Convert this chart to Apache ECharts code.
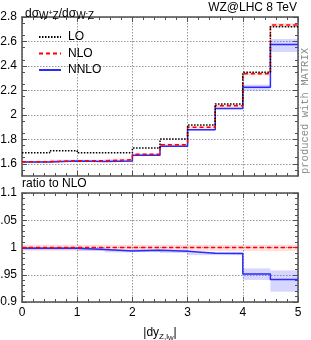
<!DOCTYPE html>
<html><head><meta charset="utf-8">
<script src="https://cdn.jsdelivr.net/npm/echarts@6/dist/echarts.min.js"></script>
<style>html,body{margin:0;padding:0;background:#fff}#c{width:311px;height:340px}</style>
</head><body><div id="c"></div>
<script>
// bin edges of |dy|
const binEdges = [0, 0.5, 1, 1.5, 2, 2.5, 3, 3.5, 4, 4.5, 5];
// upper panel: ratio dσ(W+Z)/dσ(W-Z) per bin
const lo   = [1.690, 1.707, 1.690, 1.690, 1.729, 1.802, 1.917, 2.089, 2.348, 2.721];
const nlo  = [1.617, 1.625, 1.625, 1.633, 1.677, 1.756, 1.898, 2.075, 2.337, 2.735];
const nnlo = [1.615, 1.623, 1.619, 1.623, 1.669, 1.744, 1.878, 2.052, 2.225, 2.575];
// lower panel: ratio to NLO
const nloRatio      = [1, 1, 1, 1, 1, 1, 1, 1, 1, 1];
const nloRatioLow   = [0.994, 0.994, 0.994, 0.994, 0.994, 0.994, 0.994, 0.994, 0.994, 0.994];
const nloRatioHigh  = [1.005, 1.005, 1.005, 1.005, 1.005, 1.005, 1.005, 1.005, 1.005, 1.005];
const nnloRatio     = [0.9987, 0.9987, 0.9963, 0.9937, 0.995, 0.993, 0.9894, 0.989, 0.9513, 0.9415];
const nnloRatioLow  = [0.996, 0.996, 0.994, 0.991, 0.992, 0.990, 0.986, 0.986, 0.9405, 0.919];
const nnloRatioHigh = [1.001, 1.001, 0.999, 0.996, 0.997, 0.996, 0.992, 0.992, 0.9617, 0.958];
// tick labels
const xTicks = [0, 1, 2, 3, 4, 5];
const yTicksUpper = [1.6, 1.8, 2.0, 2.2, 2.4, 2.6, 2.8];
const yTicksLower = [0.9, 0.95, 1, 1.05, 1.1];

const FONT = 'Liberation Sans, Arial, sans-serif';
const FRAME = '#505050';

function stepData(vals) {
  return binEdges.map((x, i) => [x, vals[Math.min(i, vals.length - 1)]]);
}
function bandData(base, low, high) {
  return base.map((b, i) => [binEdges[i], binEdges[i + 1], b * low[i], b * high[i]]);
}
function bandSeries(data, color, xi, yi) {
  return {
    type: 'custom', xAxisIndex: xi, yAxisIndex: yi, silent: true, clip: true, z: 1,
    data: data,
    encode: { x: [0, 1], y: [2, 3] },
    renderItem: function (params, api) {
      const p0 = api.coord([api.value(0), api.value(3)]);
      const p1 = api.coord([api.value(1), api.value(2)]);
      return { type: 'rect', shape: { x: p0[0], y: p0[1], width: p1[0] - p0[0], height: p1[1] - p0[1] },
               style: { fill: color } };
    }
  };
}
function lineSeries(name, vals, style, xi, yi) {
  return { name: name, type: 'line', step: 'end', symbol: 'none', showSymbol: false, xAxisIndex: xi, yAxisIndex: yi,
           data: stepData(vals), lineStyle: style, itemStyle: { color: style.color }, z: 3, clip: true };
}

const loStyle   = { color: '#000', width: 1.5, type: [1.5, 1.5] };
const nloStyle  = { color: '#ff0000', width: 1.5, type: [4, 3] };
const nnloStyle = { color: '#2b2bff', width: 1.5, type: 'solid' };
const redBand = 'rgba(255,90,90,0.22)';
const blueBand = 'rgba(70,70,255,0.22)';

const gridLine = { show: true, lineStyle: { color: '#999999', type: [1.5, 1.5], width: 1 } };
function xAx(gi, pos, labels, split) {
  return {
    type: 'value', gridIndex: gi, position: pos, min: 0, max: 5, interval: 1,
    axisLine: { show: true, lineStyle: { color: FRAME, width: 1.5 }, onZero: false },
    axisTick: { show: true, inside: true, length: 5, lineStyle: { color: FRAME, width: 1 } },
    minorTick: { show: true, splitNumber: 5, length: 3, lineStyle: { color: FRAME, width: 1 } },
    axisLabel: { show: labels, color: '#000', fontSize: 12, fontFamily: FONT, margin: 5,
                 customValues: xTicks },
    splitLine: split ? gridLine : { show: false }
  };
}
function yAxUpper(pos, labels, split) {
  return {
    type: 'value', gridIndex: 0, position: pos, min: 1.5, max: 2.8, interval: 0.1,
    axisLine: { show: true, lineStyle: { color: FRAME, width: 1.5 }, onZero: false },
    axisTick: { show: true, inside: true, length: 5, customValues: yTicksUpper, lineStyle: { color: FRAME, width: 1 } },
    minorTick: { show: true, splitNumber: 2, length: 3, lineStyle: { color: FRAME, width: 1 } },
    axisLabel: { show: labels, color: '#000', fontSize: 12, fontFamily: FONT, margin: 5,
                 customValues: yTicksUpper, formatter: v => String(+v.toFixed(2)) },
    splitLine: split ? gridLine : { show: false }
  };
}
function yAxLower(pos, labels, split) {
  return {
    type: 'value', gridIndex: 1, position: pos, min: 0.9, max: 1.1, interval: 0.05,
    axisLine: { show: true, lineStyle: { color: FRAME, width: 1.5 }, onZero: false },
    axisTick: { show: true, inside: true, length: 5, lineStyle: { color: FRAME, width: 1 } },
    minorTick: { show: true, splitNumber: 5, length: 3, lineStyle: { color: FRAME, width: 1 } },
    axisLabel: { show: labels, color: '#000', fontSize: 12, fontFamily: FONT, margin: 5,
                 customValues: yTicksLower, formatter: v => String(+v.toFixed(2)) },
    splitLine: split ? gridLine : { show: false }
  };
}

const xLower = xAx(1, 'bottom', true, true);
xLower.name = '{t||dy}{s|Z,l}{ss|W}{t||}';
xLower.nameLocation = 'middle';
xLower.nameGap = 23;
xLower.nameTextStyle = { fontFamily: FONT, color: '#000',
  rich: { t: { fontSize: 12, fontFamily: FONT, color: '#000', verticalAlign: 'middle', lineHeight: 16 },
          s: { fontSize: 8, fontFamily: FONT, color: '#000', padding: [7, 0, 0, 0], lineHeight: 16 },
          ss: { fontSize: 6, fontFamily: FONT, color: '#000', padding: [10, 0, 0, 0], lineHeight: 16 } } };

const option = {
  animation: false,
  textStyle: { fontFamily: FONT },
  title: {
    left: 20, top: 1,
    text: '{t|dσ}{s|W}{p|+}{s|Z}{t|/dσ}{s|W}{p|-}{s|Z}',
    textStyle: { fontWeight: 'normal', rich: {
      t: { fontSize: 12, fontFamily: FONT, fontWeight: 'normal', color: '#000', lineHeight: 16 },
      s: { fontSize: 10, fontFamily: FONT, fontWeight: 'normal', color: '#000', padding: [5, 0, 0, 0], lineHeight: 16 },
      p: { fontSize: 7, fontFamily: FONT, fontWeight: 'normal', color: '#000', padding: [0, 0, 1, 0], lineHeight: 16 } } }
  },
  legend: {
    left: 33, top: 26, orient: 'vertical', itemWidth: 22, itemHeight: 12, itemGap: 4.5,
    data: ['LO', 'NLO', 'NNLO'],
    itemStyle: { opacity: 0 },
    textStyle: { fontSize: 12, fontFamily: FONT, color: '#000', padding: [0, 0, 0, 2] }
  },
  graphic: [
    { type: 'text', right: 14, top: 2, style: { text: 'WZ@LHC 8 TeV', font: '12px ' + FONT, fill: '#000' } },
    { type: 'text', left: 22, top: 178, style: { text: 'ratio to NLO', font: '12px ' + FONT, fill: '#000' } },
    { type: 'text', x: 305, y: 111, rotation: Math.PI / 2,
      style: { text: 'produced with MATRIX', font: '10.5px Liberation Mono, monospace', fill: '#8a8a8a',
               align: 'center', verticalAlign: 'middle' } }
  ],
  grid: [
    { left: 22, right: 13, top: 17, height: 159, outerBoundsMode: 'none', containLabel: false },
    { left: 22, right: 13, top: 193, height: 109, outerBoundsMode: 'none', containLabel: false }
  ],
  xAxis: [ xAx(0, 'bottom', false, true), xAx(0, 'top', false, false), xLower, xAx(1, 'top', false, false) ],
  yAxis: [ yAxUpper('left', true, true), yAxUpper('right', false, false),
           yAxLower('left', true, true), yAxLower('right', false, false) ],
  series: [
    bandSeries(bandData(nlo, nloRatioLow, nloRatioHigh), redBand, 0, 0),
    bandSeries(bandData(nlo, nnloRatioLow, nnloRatioHigh), blueBand, 0, 0),
    bandSeries(bandData(nloRatio, nloRatioLow, nloRatioHigh), redBand, 2, 2),
    bandSeries(bandData(nloRatio, nnloRatioLow, nnloRatioHigh), blueBand, 2, 2),
    lineSeries('NNLO', nnlo, nnloStyle, 0, 0),
    lineSeries('NLO', nlo, nloStyle, 0, 0),
    lineSeries('LO', lo, loStyle, 0, 0),
    lineSeries('NNLO', nnloRatio, nnloStyle, 2, 2),
    lineSeries('NLO', nloRatio, nloStyle, 2, 2)
  ]
};
const chart = echarts.init(document.getElementById('c'), null, { renderer: 'canvas' });
chart.setOption(option);
</script></body></html>
